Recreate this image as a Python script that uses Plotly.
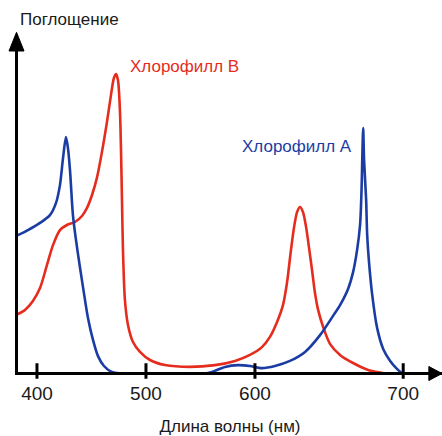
import numpy as np
import plotly.graph_objects as go

# ---- data (wavelength in nm, absorbance in relative units) ----
chl_a_nm = [380.7, 391.7, 402.8, 411.9, 417.4, 421.1, 423.9, 426.6, 428.4, 430.3,
            433.0, 435.8, 439.4, 443.1, 446.8, 451.4, 456.0, 461.5, 468.8, 478.0,
            494.5, 531.2, 554.1, 560.6, 572.5, 584.4, 595.4, 604.7, 613.5, 623.6,
            633.8, 643.9, 652.7, 657.4, 662.8, 666.2, 668.9, 670.9, 671.9, 672.3,
            673.0, 673.6, 675.0, 675.7, 677.0, 679.1, 682.4, 686.5, 691.2, 695.3,
            699.3]
chl_a_abs = [0.458, 0.478, 0.502, 0.528, 0.568, 0.628, 0.718, 0.788, 0.752, 0.678,
             0.528, 0.445, 0.355, 0.268, 0.185, 0.112, 0.058, 0.025, 0.005, 0.0,
             0.0, 0.0, 0.0, 0.005, 0.022, 0.028, 0.025, 0.018, 0.025, 0.042,
             0.072, 0.128, 0.192, 0.228, 0.282, 0.338, 0.412, 0.495, 0.612, 0.695,
             0.818, 0.712, 0.578, 0.462, 0.368, 0.262, 0.152, 0.082, 0.042, 0.018,
             0.0]

chl_b_nm = [380.7, 389.0, 396.3, 402.8, 409.2, 414.7, 421.1, 427.5, 434.9, 441.3,
            445.9, 450.5, 455.0, 459.6, 464.2, 467.9, 470.6, 472.5, 474.3, 476.1,
            477.1, 478.0, 478.9, 480.7, 483.5, 488.1, 494.5, 503.7, 517.4, 540.4,
            563.3, 581.7, 595.4, 604.7, 610.1, 614.9, 618.9, 621.6, 624.3, 626.4,
            628.4, 630.4, 632.4, 634.5, 636.5, 638.5, 640.5, 642.6, 646.0, 650.7,
            657.4, 666.2, 676.4, 687.8]
chl_b_abs = [0.195, 0.212, 0.242, 0.285, 0.362, 0.428, 0.478, 0.495, 0.505, 0.525,
             0.552, 0.595, 0.652, 0.738, 0.838, 0.928, 0.985, 0.998, 0.978, 0.878,
             0.745, 0.578, 0.412, 0.245, 0.162, 0.105, 0.072, 0.045, 0.028, 0.022,
             0.028, 0.042, 0.062, 0.088, 0.122, 0.172, 0.228, 0.302, 0.412, 0.488,
             0.538, 0.555, 0.538, 0.488, 0.418, 0.345, 0.268, 0.212, 0.155, 0.098,
             0.062, 0.035, 0.012, 0.0]

tick_nm = [400, 500, 600, 700]
tick_labels = ["400", "500", "600", "700"]

series_names = ["Хлорофилл A", "Хлорофилл B"]
x_title = "Длина волны (нм)"
y_title = "Поглощение"

# ---- the drawn wavelength axis is stretched above 600 nm ----
def to_axis(nm):
    nm = np.asarray(nm, dtype=float)
    return np.where(nm <= 600, nm, 600 + (nm - 600) * 1.36)

RED = "#e52c1d"
BLUE = "#1b3da3"
FONT = "Liberation Sans, Arial, sans-serif"

fig = go.Figure()
fig.add_trace(go.Scatter(x=to_axis(chl_b_nm), y=chl_b_abs, mode="lines",
                         line=dict(color=RED, width=2.6, shape="spline", smoothing=0.8),
                         name=series_names[1], hoverinfo="skip"))
fig.add_trace(go.Scatter(x=to_axis(chl_a_nm), y=chl_a_abs, mode="lines",
                         line=dict(color=BLUE, width=2.6, shape="spline", smoothing=0.8),
                         name=series_names[0], hoverinfo="skip"))

tickpos = [float(v) for v in to_axis(tick_nm)]

# tick marks crossing the axis line
for tp in tickpos:
    fig.add_shape(type="line", xref="x", yref="paper", x0=tp, x1=tp,
                  y0=-0.02, y1=0.026, layer="above",
                  line=dict(color="black", width=3))

# arrow heads
fig.add_shape(type="path", xref="paper", yref="paper",
              path="M 0.969,-0.0253 L 1.0,-0.0045 L 0.969,0.0163 Z",
              fillcolor="black", line=dict(color="black", width=1))
fig.add_shape(type="path", xref="paper", yref="paper",
              path="M -0.0212,0.9525 L -0.0035,1.008 L 0.0142,0.9525 Z",
              fillcolor="black", line=dict(color="black", width=1))

fig.add_annotation(x=0.0, y=1.046, xref="paper", yref="paper", text=y_title,
                   showarrow=False, xanchor="left", yanchor="middle",
                   font=dict(family=FONT, size=17, color="#1a1a1a"))
fig.add_annotation(x=483.5, y=1.022, xref="x", yref="y", text=series_names[1],
                   showarrow=False, xanchor="left", yanchor="middle",
                   font=dict(family=FONT, size=17, color=RED))
fig.add_annotation(x=586.2, y=0.755, xref="x", yref="y", text=series_names[0],
                   showarrow=False, xanchor="left", yanchor="middle",
                   font=dict(family=FONT, size=17, color=BLUE))

fig.update_layout(
    width=442, height=436,
    margin=dict(l=18, r=0, t=35, b=64),
    paper_bgcolor="white", plot_bgcolor="white",
    showlegend=False,
    font=dict(family=FONT, color="#1a1a1a"),
    xaxis=dict(range=[382.6, 771.6], showgrid=False, zeroline=False,
               showline=True, linecolor="black", linewidth=3,
               tickvals=tickpos, ticktext=tick_labels, ticks="",
               tickfont=dict(family=FONT, size=19, color="#1a1a1a"),
               ticklabelstandoff=2,
               title=dict(text=x_title, standoff=19,
                          font=dict(family=FONT, size=17, color="#1a1a1a"))),
    yaxis=dict(range=[0.005, 1.1283], showgrid=False, zeroline=False,
               showline=True, linecolor="black", linewidth=3,
               showticklabels=False, ticks=""),
)

fig.write_html("out.html", config={"displayModeBar": False},
               post_script="document.body.style.margin='0';document.body.style.overflow='hidden';")
